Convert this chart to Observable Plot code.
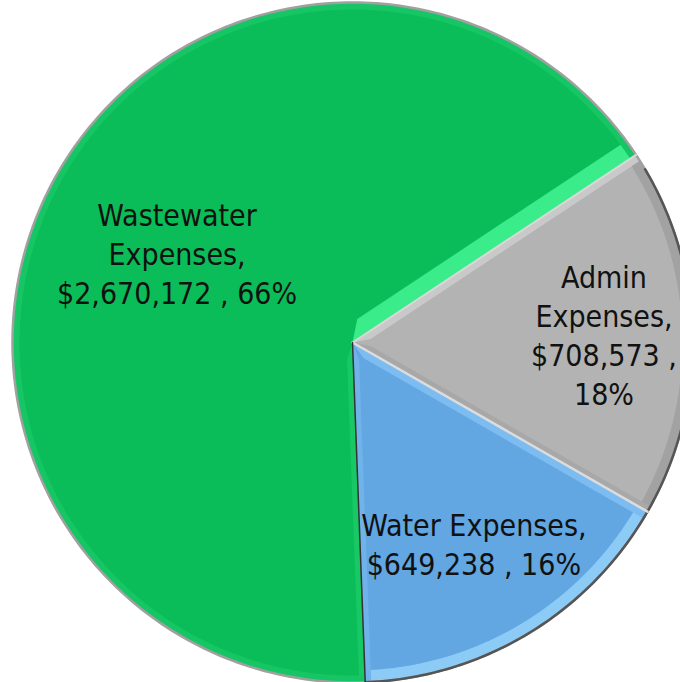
<!DOCTYPE html>
<html><head><meta charset="utf-8">
<script src="https://cdn.jsdelivr.net/npm/d3@7"></script>
<script src="https://cdn.jsdelivr.net/npm/@observablehq/plot@0.6"></script>
<style>body{margin:0;background:#fff;overflow:hidden}</style>
</head><body><div id="chart"></div>
<script>
// ---- data ----
const categories = ["Admin Expenses", "Water Expenses", "Wastewater Expenses"];
const amounts = [708573, 649238, 2670172];
const labels = [
  "Admin\nExpenses,\n$708,573 ,\n18%",
  "Water Expenses,\n$649,238 , 16%",
  "Wastewater\nExpenses,\n$2,670,172 , 66%"
];
const baseColors = ["#b3b3b3", "#62a6e2", "#0bbd58"];

// ---- layout / style ----
const W = 680, H = 682, R = 340, CX = 352, CY = 342;
const startDeg = 56.5;
const labelRadius = [0.74, 0.69, 0.58];
// bevel bands: slice index, which edge, width (px), colour
const bands = [
  {i: 2, edge: "end", w: 17, color: "#3aec8a"},
  {i: 2, edge: "start", w: 6, color: "#18c865"},
  {i: 2, edge: "rim", w: 7, color: "#16c563"},
  {i: 1, edge: "rim", w: 12, color: "#8ccbf6"},
  {i: 1, edge: "end", w: 6, color: "#70b2ea"},
  {i: 1, edge: "start", w: 8, color: "#7dbcf0"},
  {i: 0, edge: "rim", w: 10, color: "#a2a2a2"},
  {i: 0, edge: "start", w: 7, color: "#c9c9c9"},
  {i: 0, edge: "end", w: 6, color: "#a8a8a8"}
];

const start = startDeg * Math.PI / 180;
const arcs = d3.pie().sort(null).value(d => d).startAngle(start).endAngle(start + 2 * Math.PI)(amounts);

const pt = (r, t) => ({x: r * Math.sin(t), y: r * Math.cos(t)});
function arcPts(r, a0, a1, n = 160) {
  return d3.range(n + 1).map(j => pt(r, a0 + (a1 - a0) * j / n));
}
function slicePoly(a) {
  const p = [{x: 0, y: 0}, ...arcPts(1, a.startAngle, a.endAngle)];
  p.push(p[0]);
  return p;
}
function bandPoly(b) {
  const a = arcs[b.i], w = b.w / R;
  if (b.edge === "rim") {
    const p = [...arcPts(1, a.startAngle, a.endAngle), ...arcPts(1 - w, a.endAngle, a.startAngle)];
    p.push(p[0]);
    return p;
  }
  const th = b.edge === "start" ? a.startAngle : a.endAngle;
  const s = b.edge === "start" ? 1 : -1;
  const d = Math.asin(w);
  const perp = {x: s * Math.cos(th) * w, y: -s * Math.sin(th) * w};
  const inner = {x: perp.x + 0.05 * Math.sin(th), y: perp.y + 0.05 * Math.cos(th)};
  return [{x: 0, y: 0}, pt(1, th), pt(1, th + s * d), inner, {x: 0, y: 0}];
}

const slices = arcs.map(slicePoly);
const bandPolys = bands.map(bandPoly);
const rim = d3.range(0, 361).map(t => pt(1, t * Math.PI / 180));
const rimDark = arcPts(1, arcs[0].startAngle + 0.05, arcs[1].endAngle);
const labelData = arcs.map((a, i) => {
  const mid = (a.startAngle + a.endAngle) / 2;
  return {...pt(labelRadius[i], mid), text: labels[i], name: categories[i]};
});
const edges = arcs.map(a => [{x: 0, y: 0}, pt(1, a.startAngle)]);
const edgeColors = ["#d8d8d8", "#dcdcdc", "#333333"];
const edgeWidths = [2, 2.5, 1.5];

const chart = Plot.plot({
  width: W, height: H, margin: 0,
  x: {domain: [-CX / R, (W - CX) / R], range: [0, W], axis: null},
  y: {domain: [-(H - CY) / R, CY / R], range: [H, 0], axis: null},
  marks: [
    ...slices.map((p, i) => Plot.line(p, {x: "x", y: "y", fill: baseColors[i], stroke: "none"})),
    ...bandPolys.map((p, k) => Plot.line(p, {x: "x", y: "y", fill: bands[k].color, stroke: "none"})),
    Plot.line(rim, {x: "x", y: "y", stroke: "#a0a0a0", strokeWidth: 2.5}),
    Plot.line(rimDark, {x: "x", y: "y", stroke: "#555555", strokeWidth: 2.5}),
    ...edges.map((e, i) => Plot.line(e, {x: "x", y: "y", stroke: edgeColors[i], strokeWidth: edgeWidths[i]})),
    Plot.text(labelData, {x: "x", y: "y", text: "text", fontSize: 30, lineHeight: 1.3,
      fontFamily: "'Liberation Sans Narrow', 'DejaVu Sans Condensed', 'Open Sans', sans-serif", fill: "#111"})
  ]
});
document.getElementById("chart").appendChild(chart);
</script>
</body></html>
